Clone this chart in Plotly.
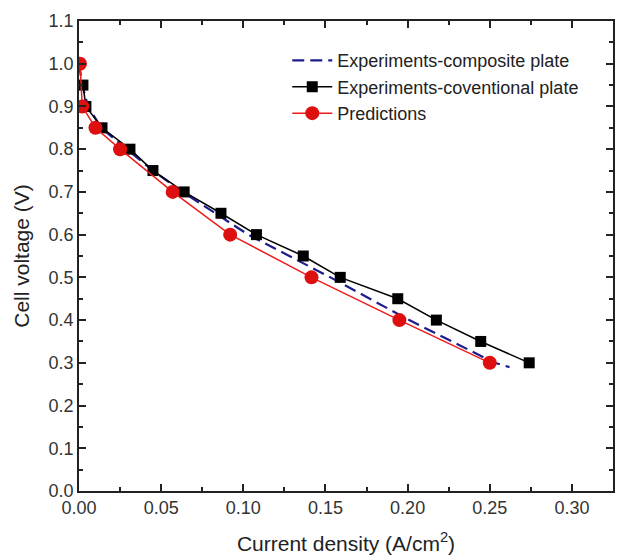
import plotly.graph_objects as go

# Polarization curves: current density (A/cm^2) vs cell voltage (V)
composite_i = [0.0, 0.002, 0.0055, 0.0135, 0.029, 0.045, 0.063, 0.083, 0.103, 0.128, 0.153, 0.177, 0.201, 0.227, 0.253, 0.262]
composite_v = [1.0, 0.95, 0.90, 0.85, 0.80, 0.75, 0.70, 0.65, 0.60, 0.55, 0.50, 0.45, 0.40, 0.35, 0.30, 0.29]

conventional_i = [0.0024, 0.0042, 0.014, 0.031, 0.045, 0.064, 0.0864, 0.108, 0.1365, 0.159, 0.194, 0.2175, 0.2445, 0.274]
conventional_v = [0.95, 0.90, 0.85, 0.80, 0.75, 0.70, 0.65, 0.60, 0.55, 0.50, 0.45, 0.40, 0.35, 0.30]

pred_i = [0.0006, 0.002, 0.010, 0.025, 0.057, 0.092, 0.1415, 0.195, 0.250]
pred_v = [1.0, 0.90, 0.85, 0.80, 0.70, 0.60, 0.50, 0.40, 0.30]

x_ticks = [0.0, 0.05, 0.10, 0.15, 0.20, 0.25, 0.30]
x_labels = ["0.00", "0.05", "0.10", "0.15", "0.20", "0.25", "0.30"]
y_ticks = [0.0, 0.1, 0.2, 0.3, 0.4, 0.5, 0.6, 0.7, 0.8, 0.9, 1.0, 1.1]
y_labels = ["0.0", "0.1", "0.2", "0.3", "0.4", "0.5", "0.6", "0.7", "0.8", "0.9", "1.0", "1.1"]

FONT = "Liberation Sans, Arial, sans-serif"
INK = "#222222"

fig = go.Figure()

fig.add_trace(go.Scatter(
    x=composite_i, y=composite_v, mode="lines",
    name="Experiments-composite plate",
    line=dict(color="#1c1c8f", width=2.2, dash="12px,6px"),
))
fig.add_trace(go.Scatter(
    x=conventional_i, y=conventional_v, mode="lines+markers",
    name="Experiments-coventional plate",
    line=dict(color="black", width=1.5),
    marker=dict(symbol="square", size=11, color="black"),
))
fig.add_trace(go.Scatter(
    x=pred_i, y=pred_v, mode="lines+markers",
    name="Predictions",
    line=dict(color="#ee1c1c", width=1.5),
    marker=dict(symbol="circle", size=14, color="#dd0f0f"),
))

axis_common = dict(
    showline=True, linecolor=INK, linewidth=1.5, mirror="allticks",
    ticks="inside", ticklen=7, tickwidth=1.5, tickcolor=INK,
    showgrid=False, zeroline=False,
    tickfont=dict(family=FONT, size=18, color="#333333"),
)

fig.update_xaxes(
    range=[0, 0.325], tickvals=x_ticks, ticktext=x_labels,
    minor=dict(ticks="inside", ticklen=4, tickwidth=1.5, tickcolor=INK, dtick=0.025, tick0=0),
    title=dict(text="Current density (A/cm<sup>2</sup>)", standoff=19,
               font=dict(family=FONT, size=21, color=INK)),
    **axis_common,
)
fig.update_yaxes(
    range=[0, 1.1], tickvals=y_ticks, ticktext=y_labels,
    minor=dict(ticks="inside", ticklen=4, tickwidth=1.5, tickcolor=INK, dtick=0.05, tick0=0),
    title=dict(text="Cell voltage (V)", standoff=13,
               font=dict(family=FONT, size=21, color=INK)),
    **axis_common,
)

fig.update_layout(
    width=617, height=557,
    margin=dict(l=79, r=2, t=21, b=66),
    paper_bgcolor="white", plot_bgcolor="white",
    showlegend=True,
    legend=dict(
        x=0.39, y=0.955, xanchor="left", yanchor="top",
        bgcolor="rgba(0,0,0,0)", borderwidth=0,
        font=dict(family=FONT, size=18, color=INK),
        tracegroupgap=0, itemwidth=40,
    ),
)

fig.write_html("out.html")
